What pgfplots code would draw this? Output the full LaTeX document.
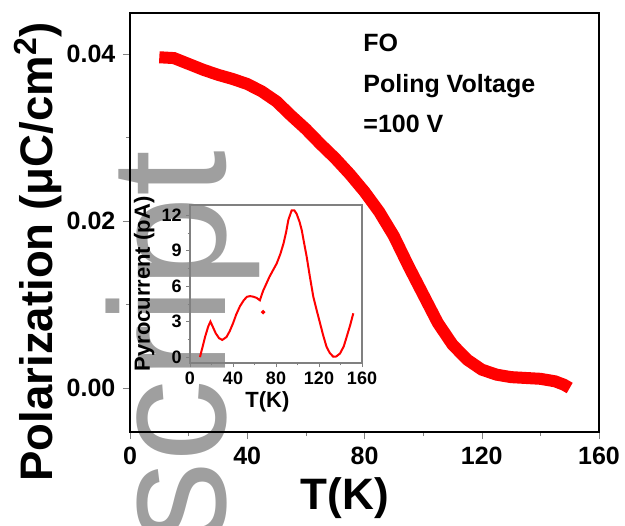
\documentclass[border=0pt]{standalone}
\usepackage{pgfplots}
\pgfplotsset{compat=1.18}
\usepackage{fontspec}
\setmainfont{Liberation Sans}

\begin{document}
\begin{tikzpicture}
\path[use as bounding box] (-65pt,-46.5pt) rectangle (247.5pt,216pt);
% faint watermark behind the plot
\node[rotate=90, anchor=base west, text=gray!75, inner sep=0pt,
      font=\fontsize{82.5}{82.5}\selectfont] at (47.5pt,-56.5pt) {script};

\begin{axis}[
  width=234.5pt, height=209.5pt, scale only axis,
  xmin=0, xmax=160, ymin=-0.00527, ymax=0.0449,
  xtick={0,40,80,120,160}, ytick={0,0.02,0.04},
  minor x tick num=1, minor y tick num=1,
  xtick pos=bottom, ytick pos=left, tick align=outside,
  major tick length=3.5pt, minor tick length=2pt,
  line width=1pt,
  scaled y ticks=false,
  /pgf/number format/assume math mode=true,
  tick label style={font=\fontsize{12.5}{14}\selectfont\bfseries},
  yticklabel style={/pgf/number format/fixed,/pgf/number format/fixed zerofill,/pgf/number format/precision=2},
  xlabel={T(K)},
  xlabel style={at={(axis description cs:0.458,-0.158)}, anchor=center, font=\fontsize{22}{26}\selectfont\bfseries},
  ylabel={Polarization (μC/cm\textsuperscript{2})},
  ylabel style={at={(axis description cs:-0.196,0.43)}, anchor=center, font=\fontsize{22.8}{26}\selectfont\bfseries},
]
\addplot[red, line width=6pt] coordinates {
(10,0.0396)(15,0.0395)(20,0.0388)(25,0.0381)(30,0.0375)(35,0.0370)(40,0.0364)
(45,0.0355)(50,0.0343)(55,0.0326)(60,0.0310)(65,0.0292)(70,0.0275)(75,0.0256)
(80,0.0235)(85,0.0211)(90,0.0182)(95,0.0146)(100,0.0112)(105,0.0078)(110,0.0052)
(115,0.0034)(120,0.0022)(125,0.0016)(130,0.0013)(135,0.0012)(140,0.0011)
(145,0.0008)(148,0.0004)(150,0.0)
};
\end{axis}

\begin{scope}[font=\fontsize{12.5}{15}\selectfont\bfseries]
\node[anchor=base west, inner sep=0pt] at (116.5pt,190pt) {FO};
\node[anchor=base west, inner sep=0pt] at (116.5pt,169.5pt) {Poling Voltage};
\node[anchor=base west, inner sep=0pt] at (116.5pt,149.5pt) {=100 V};
\end{scope}

\begin{axis}[
  at={(30pt,34.5pt)}, anchor=south west,
  width=86pt, height=79pt, scale only axis,
  xmin=0, xmax=160, ymin=-0.5, ymax=12.85,
  xtick={0,40,80,120,160}, ytick={0,3,6,9,12},
  minor x tick num=1, minor y tick num=1,
  xtick pos=bottom, ytick pos=left, tick align=outside,
  major tick length=2pt, minor tick length=1.2pt,
  axis line style={gray}, line width=0.6pt,
  /pgf/number format/assume math mode=true,
  tick label style={font=\fontsize{9}{10}\selectfont\bfseries},
  xticklabel style={yshift=1pt}, yticklabel style={xshift=1.5pt},
  xlabel={T(K)},
  xlabel style={at={(axis description cs:0.45,-0.247)}, anchor=center, font=\fontsize{11}{13}\selectfont\bfseries},
  ylabel={Pyrocurrent (pA)},
  ylabel style={at={(axis description cs:-0.267,0.5)}, anchor=center, font=\fontsize{11}{13}\selectfont\bfseries},
]
\addplot[red, line width=1pt] coordinates {
(9.3,0)(14,1.7)(17,2.6)(19,3.0)(21,2.6)(24,2.0)(27,1.6)(30,1.45)(34,1.7)
(37,2.2)(40,2.85)(43,3.6)(46.5,4.3)(50,4.8)(53,5.1)(56,5.15)(59,5.1)(62,5.0)
(65,4.8)(68,5.6)(71,6.2)(74,6.8)(77,7.3)(80.6,7.9)(84,8.7)(87,9.6)(89.5,10.6)
(91.5,11.6)(94.6,12.4)(97,12.4)(99.2,12.1)(102,11.4)(104,10.7)(106,9.7)
(108.5,8.5)(111.5,6.8)(114.7,5.1)(118,3.9)(121,2.85)(124,1.8)(127,0.87)
(130,0.35)(133.3,0.03)(136,0.05)(139.5,0.3)(143,0.9)(145.7,1.7)(149,2.7)(151.9,3.7)
};
\addplot[red, only marks, mark=*, mark size=0.8pt] coordinates {(68,3.8)};
\end{axis}
\end{tikzpicture}
\end{document}
